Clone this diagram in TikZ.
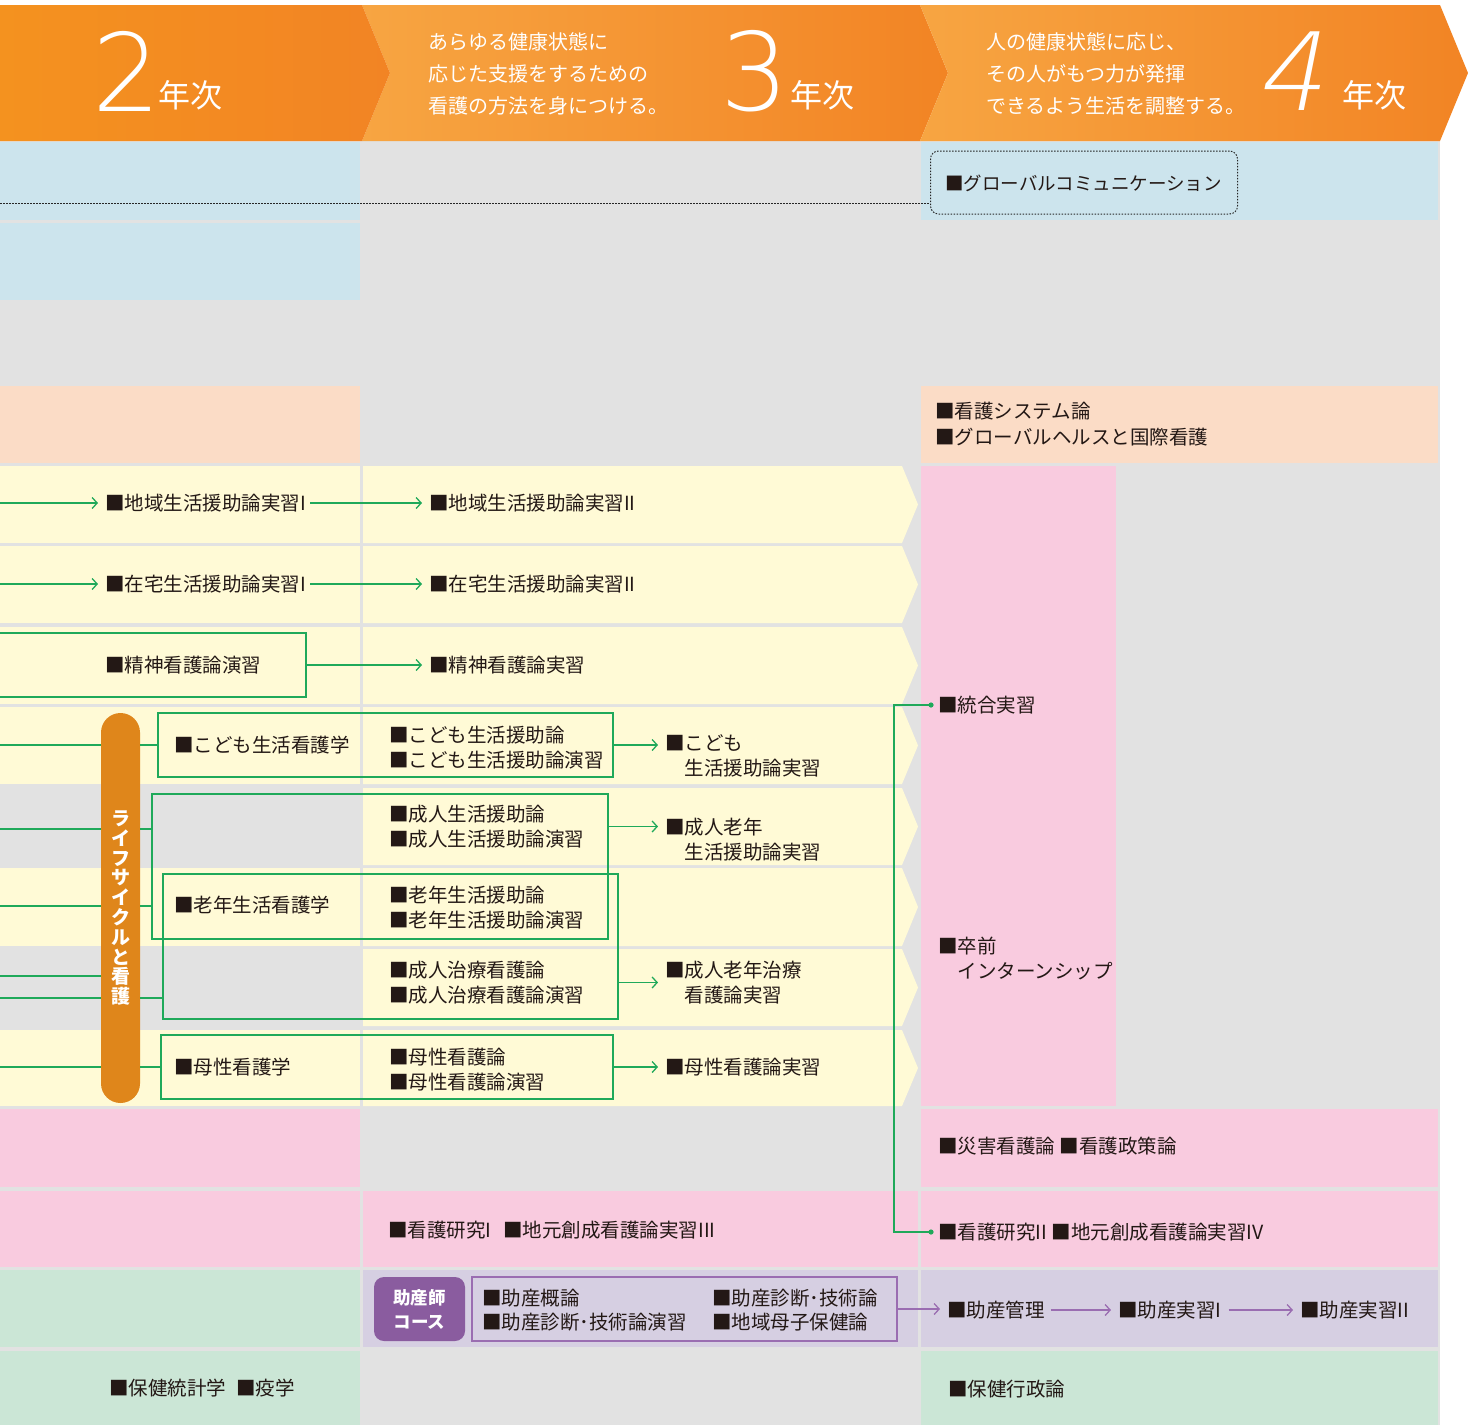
\documentclass[tikz,border=0pt]{standalone}
\usepackage{fontspec}
\setmainfont{Noto Sans CJK JP}
\IfFontExistsTF{DejaVu Sans ExtraLight}{%
  \newfontfamily\hdnum{DejaVu Sans ExtraLight}%
  \newfontfamily\hdnumsl{DejaVu Sans ExtraLight}[FakeSlant=0.2]%
}{%
  \newfontfamily\hdnum{Noto Sans CJK JP}%
  \newfontfamily\hdnumsl{Noto Sans CJK JP}[FakeSlant=0.2]%
}
\usetikzlibrary{arrows.meta}
\definecolor{cgray}{HTML}{E2E2E2}
\definecolor{cblue}{HTML}{CCE4ED}
\definecolor{cpeach}{HTML}{FBDCC6}
\definecolor{cyellow}{HTML}{FFFAD6}
\definecolor{cpink}{HTML}{F9CBDF}
\definecolor{cgreen}{HTML}{CBE6D6}
\definecolor{clav}{HTML}{D6CFE2}
\definecolor{gcol}{HTML}{1FA95A}
\definecolor{pcol}{HTML}{9A6DB1}
\definecolor{ppill}{HTML}{8A5C9F}
\definecolor{corange}{HTML}{DF861B}
\definecolor{tcol}{HTML}{231815}
\definecolor{hAa}{HTML}{F4921F}
\definecolor{hAb}{HTML}{F28424}
\definecolor{hBa}{HTML}{F7A542}
\definecolor{hBb}{HTML}{F28424}
\newcommand\bodyfs{\fontsize{19.5}{25}\selectfont}
\begin{document}
\begin{tikzpicture}[x=1pt,y=-1pt,
  txt/.style={inner sep=0pt, anchor=west, align=left, font=\bodyfs, text=tcol},
  hdtxt/.style={inner sep=0pt, anchor=west, align=left, font=\fontsize{20}{32}\selectfont, text=white},
  hnum/.style={inner sep=0pt, font=\hdnum\fontsize{108}{108}\selectfont, text=white},
  hyr/.style={inner sep=0pt, font=\fontsize{32}{32}\selectfont, text=white},
  gl/.style={draw=gcol, line width=1.3pt},
  garrow/.style={gl, -{Straight Barb[length=5pt,width=11pt]}, shorten >=7pt},
  parrow/.style={draw=pcol, line width=1.3pt, -{Straight Barb[length=5pt,width=11pt]}, shorten >=7pt},
  gbox/.style={draw=gcol, line width=1.3pt, inner sep=0pt},
  dotline/.style={draw=black!85, line width=1pt, dash pattern=on 1.5pt off 1.5pt},
]
\useasboundingbox (0,0) rectangle (1469,1425);
\fill[white] (0,0) rectangle (1469,1425);
\fill[cgray] (0,141) rectangle (1440,1425);
% row A / B
\fill[cblue] (0,142) rectangle (360,220);
\fill[cblue] (921,142) rectangle (1438,220);
\fill[cblue] (0,223) rectangle (360,300);
% row D
\fill[cpeach] (0,386) rectangle (360,463);
\fill[cpeach] (921,386) rectangle (1438,463);
% rows E-L
\foreach \t/\b in {466/543,546/623,627/704,707/784,788/865,868/946,949/1026,1030/1106}{
  \fill[cyellow] (363,\t) -- (902,\t) -- (918,{(\t+\b)/2}) -- (902,\b) -- (363,\b) -- cycle;
}
\foreach \t/\b in {466/543,546/623,627/704,707/784,868/946,1030/1106}{
  \fill[cyellow] (0,\t) rectangle (360,\b);
}
\fill[cpink] (921,466) rectangle (1116,1106);
% row M
\fill[cpink] (0,1109) rectangle (360,1187);
\fill[cpink] (921,1109) rectangle (1438,1187);
% row N
\fill[cpink] (0,1191) rectangle (360,1267);
\fill[cpink] (363,1191) rectangle (918,1267);
\fill[cpink] (921,1191) rectangle (1438,1267);
% row O
\fill[cgreen] (0,1270) rectangle (360,1347);
\fill[clav] (363,1270) rectangle (918,1347);
\fill[clav] (921,1270) rectangle (1438,1347);
% row P
\fill[cgreen] (0,1351) rectangle (360,1425);
\fill[cgreen] (921,1351) rectangle (1438,1425);

% header
\shade[left color=hBa, right color=hBb] (362,5) -- (920,5) -- (948,73) -- (920,141) -- (362,141) -- (390,73) -- cycle;
\shade[left color=hBa, right color=hBb] (920,5) -- (1440,5) -- (1468,73) -- (1440,141) -- (920,141) -- (948,73) -- cycle;
\shade[left color=hAa, right color=hAb] (0,5) -- (362,5) -- (390,73) -- (362,141) -- (0,141) -- cycle;

\node[hnum] (n2) at (127,71) {2};
\node[hyr] (y2) at (190,95) {年次};
\node[hdtxt] (d3) at (428,74) {あらゆる健康状態に\\応じた支援をするための\\看護の方法を身につける。};
\node[hnum] (n3) at (755,71) {3};
\node[hyr] (y3) at (822,95) {年次};
\node[hdtxt] (d4) at (986,74) {人の健康状態に応じ、\\その人がもつ力が発揮\\できるよう生活を調整する。};
\node[hnum, font=\hdnumsl\fontsize{108}{108}\selectfont] (n4) at (1290,71) {4};
\node[hyr] (y4) at (1374,95) {年次};

% global communication
\node[dotline, rounded corners=8pt, minimum width=307pt, minimum height=63pt, inner sep=0pt] (gcbox) at (1084,182.5) {};
\node[txt, font=\fontsize{18.5}{22}\selectfont] (gc) at (945,183) {■グローバルコミュニケーション};
\coordinate (gcl) at (0,203);
\draw[dotline] (gcl) -- (gcbox.west |- gcl);

% row D
\node[txt, font=\fontsize{19.5}{26}\selectfont] (sys) at (935,424) {■看護システム論\\■グローバルヘルスと国際看護};

% row E
\coordinate (eL) at (0,503);
\node[txt] (e1) at (105,503) {■地域生活援助論実習I};
\node[txt] (e2) at (429,503) {■地域生活援助論実習II};
\draw[garrow] (eL) -- (e1.west);
\draw[garrow, shorten <=4pt] (e1.east) -- (e2.west);
% row F
\coordinate (fL) at (0,584);
\node[txt] (f1) at (105,584) {■在宅生活援助論実習I};
\node[txt] (f2) at (429,584) {■在宅生活援助論実習II};
\draw[garrow] (fL) -- (f1.west);
\draw[garrow, shorten <=4pt] (f1.east) -- (f2.west);
% row G
\node[gbox, minimum width=308pt, minimum height=64pt] (bG) at (152,665) {};
\node[txt] (g1) at (105,665) {■精神看護論演習};
\node[txt] (g2) at (429,665) {■精神看護論実習};
\draw[garrow] (bG.east) -- (g2.west);

% life-cycle boxes
\node[gbox, minimum width=455pt, minimum height=64pt] (bH) at (385.5,745) {};
\node[gbox, minimum width=456pt, minimum height=145pt] (bIJ) at (380,866.5) {};
\node[gbox, minimum width=455pt, minimum height=145pt] (bJK) at (390.5,946.5) {};
\node[gbox, minimum width=452pt, minimum height=64pt] (bL) at (387,1067) {};

\node[txt] (h0) at (174,745) {■こども生活看護学};
\node[txt] (h1) at (389,747.5) {■こども生活援助論\\■こども生活援助論演習};
\node[txt] (h2) at (665,755.5) {■こども\\\phantom{■}生活援助論実習};
\draw[garrow] (bH.east) -- (bH.east -| h2.west);

\node[txt] (i1) at (389,826.5) {■成人生活援助論\\■成人生活援助論演習};
\node[txt] (i2) at (665,839.5) {■成人老年\\\phantom{■}生活援助論実習};
\draw[garrow] (bIJ.east |- i1.west) -- (i2.west |- i1.west);

\node[txt] (j0) at (174,905) {■老年生活看護学};
\node[txt] (j1) at (389,907.5) {■老年生活援助論\\■老年生活援助論演習};

\node[txt] (k1) at (389,982.5) {■成人治療看護論\\■成人治療看護論演習};
\node[txt] (k2) at (665,982.5) {■成人老年治療\\\phantom{■}看護論実習};
\draw[garrow] (bJK.east |- k2.west) -- (k2.west);

\node[txt] (l0) at (174,1067) {■母性看護学};
\node[txt] (l1) at (389,1069.5) {■母性看護論\\■母性看護論演習};
\node[txt] (l2) at (665,1067) {■母性看護論実習};
\draw[garrow] (bL.east) -- (l2.west);

% pill and its lines
\coordinate (hL) at (0,745);
\coordinate (iL) at (0,829);
\coordinate (jL) at (0,906);
\coordinate (kLa) at (0,976);
\coordinate (kLb) at (0,998);
\coordinate (lL) at (0,1067);
\node[fill=corange, rounded corners=19.5pt, minimum width=39pt, minimum height=390pt, inner sep=0pt,
      text=white, align=center, font=\bfseries\fontsize{19}{19.8}\selectfont] (pill) at (120.5,908)
      {ラ\\イ\\フ\\サ\\イ\\ク\\ル\\と\\看\\護};
\draw[gl] (hL) -- (pill.west |- hL);
\draw[gl] (iL) -- (pill.west |- iL);
\draw[gl] (jL) -- (pill.west |- jL);
\draw[gl] (kLa) -- (pill.west |- kLa);
\draw[gl] (kLb) -- (pill.west |- kLb);
\draw[gl] (lL) -- (pill.west |- lL);
\draw[gl] (pill.east |- bH.west) -- (bH.west);
\draw[gl] (pill.east |- iL) -- (bIJ.west |- iL);
\draw[gl] (pill.east |- jL) -- (bIJ.west |- jL);
\draw[gl] (pill.east |- kLb) -- (bJK.west |- kLb);
\draw[gl] (pill.east |- bL.west) -- (bL.west);

% 4th year column
\node[txt] (tg) at (938,705) {■統合実習};
\node[txt] (sz) at (938,958.5) {■卒前\\\phantom{■}インターンシップ};
\node[txt] (sg) at (938,1146) {■災害看護論 ■看護政策論};
\node[txt] (kk2) at (938,1232) {■看護研究II ■地元創成看護論実習IV};
\coordinate (brx) at (894,0);
\draw[gl] ([xshift=-7pt]tg.west) -- (tg.west -| brx) -- (kk2.west -| brx) -- ([xshift=-7pt]kk2.west);
\fill[gcol] ([xshift=-7pt]tg.west) circle (2.6pt);
\fill[gcol] ([xshift=-7pt]kk2.west) circle (2.6pt);

% row N
\node[txt] (kk1) at (388,1230) {■看護研究I\hspace{12pt}■地元創成看護論実習III};

% row O
\node[fill=ppill, rounded corners=10pt, minimum width=91pt, minimum height=64pt, inner sep=0pt,
      text=white, align=center, font=\bfseries\fontsize{17.5}{24}\selectfont] (jp) at (419.5,1309) {助産師\\コース};
\node[draw=pcol, line width=1.3pt, minimum width=425pt, minimum height=64pt, inner sep=0pt] (jbox) at (684.5,1309) {};
\node[txt] (o1) at (482,1298) {■助産概論};
\node[txt] (o2) at (482,1322) {■助産診断･技術論演習};
\node[txt] (o3) at (712,1298) {■助産診断･技術論};
\node[txt] (o4) at (712,1322) {■地域母子保健論};
\node[txt] (ka) at (947,1310) {■助産管理};
\node[txt] (js1) at (1118,1310) {■助産実習I};
\node[txt] (js2) at (1300,1310) {■助産実習II};
\draw[parrow] (jbox.east) -- (jbox.east -| ka.west);
\draw[parrow, shorten <=6pt] (ka.east) -- (js1.west);
\draw[parrow, shorten <=7pt] (js1.east) -- (js2.west);

% row P
\node[txt] (p1) at (109,1388) {■保健統計学\hspace{10pt}■疫学};
\node[txt] (p2) at (948,1389) {■保健行政論};
\end{tikzpicture}
\end{document}
